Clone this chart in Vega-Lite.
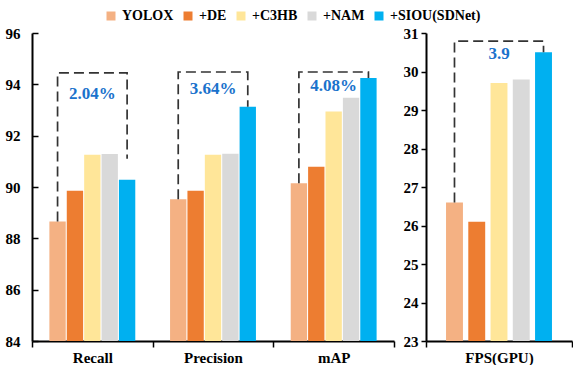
{
  "$schema": "https://vega.github.io/schema/vega-lite/v6.json",
  "padding": {"left": 5, "top": 9, "right": 0, "bottom": 0},
  "spacing": 8,
  "resolve": {"scale": {"xOffset": "independent", "y": "independent", "x": "independent"}},
  "config": {
    "font": "Liberation Serif",
    "view": {"stroke": null},
    "text": {"font": "Liberation Serif"},
    "axis": {"grid": false, "domainColor": "#000", "domainWidth": 2, "tickColor": "#000", "tickWidth": 1.5, "labelFont": "Liberation Serif", "labelFontWeight": "bold", "labelFontSize": 15, "labelColor": "#000", "labelOverlap": false},
    "legend": {"orient": "none", "legendX": 72, "legendY": -24, "direction": "horizontal", "symbolType": "square", "symbolSize": 81, "symbolStrokeWidth": 0, "labelFont": "Liberation Serif", "labelFontWeight": "bold", "labelFontSize": 14, "labelColor": "#000", "columnPadding": 7, "labelOffset": 4}
  },
  "datasets": {
    "bars": [
      {"metric": "Recall", "model": "YOLOX", "value": 88.66},
      {"metric": "Recall", "model": "+DE", "value": 89.85},
      {"metric": "Recall", "model": "+C3HB", "value": 91.26},
      {"metric": "Recall", "model": "+NAM", "value": 91.29},
      {"metric": "Recall", "model": "+SIOU(SDNet)", "value": 90.28},
      {"metric": "Precision", "model": "YOLOX", "value": 89.52},
      {"metric": "Precision", "model": "+DE", "value": 89.85},
      {"metric": "Precision", "model": "+C3HB", "value": 91.26},
      {"metric": "Precision", "model": "+NAM", "value": 91.3},
      {"metric": "Precision", "model": "+SIOU(SDNet)", "value": 93.13},
      {"metric": "mAP", "model": "YOLOX", "value": 90.15},
      {"metric": "mAP", "model": "+DE", "value": 90.79},
      {"metric": "mAP", "model": "+C3HB", "value": 92.94},
      {"metric": "mAP", "model": "+NAM", "value": 93.48},
      {"metric": "mAP", "model": "+SIOU(SDNet)", "value": 94.25}
    ],
    "fps": [
      {"metric": "FPS(GPU)", "model": "YOLOX", "value": 26.6},
      {"metric": "FPS(GPU)", "model": "+DE", "value": 26.1},
      {"metric": "FPS(GPU)", "model": "+C3HB", "value": 29.7},
      {"metric": "FPS(GPU)", "model": "+NAM", "value": 29.79},
      {"metric": "FPS(GPU)", "model": "+SIOU(SDNet)", "value": 30.5}
    ],
    "brackets": [
      {"metric": "Recall", "model": "YOLOX", "value": 88.66, "k": 1},
      {"metric": "Recall", "model": "YOLOX", "value": 94.45, "k": 2},
      {"metric": "Recall", "model": "+SIOU(SDNet)", "value": 94.45, "k": 3},
      {"metric": "Recall", "model": "+SIOU(SDNet)", "value": 91.1, "k": 4},
      {"metric": "Precision", "model": "YOLOX", "value": 89.52, "k": 1},
      {"metric": "Precision", "model": "YOLOX", "value": 94.48, "k": 2},
      {"metric": "Precision", "model": "+SIOU(SDNet)", "value": 94.48, "k": 3},
      {"metric": "Precision", "model": "+SIOU(SDNet)", "value": 93.13, "k": 4},
      {"metric": "mAP", "model": "YOLOX", "value": 90.15, "k": 1},
      {"metric": "mAP", "model": "YOLOX", "value": 94.48, "k": 2},
      {"metric": "mAP", "model": "+SIOU(SDNet)", "value": 94.48, "k": 3},
      {"metric": "mAP", "model": "+SIOU(SDNet)", "value": 94.25, "k": 4}
    ],
    "fpsBracket": [
      {"metric": "FPS(GPU)", "model": "YOLOX", "value": 26.6, "k": 1},
      {"metric": "FPS(GPU)", "model": "YOLOX", "value": 30.79, "k": 2},
      {"metric": "FPS(GPU)", "model": "+SIOU(SDNet)", "value": 30.79, "k": 3},
      {"metric": "FPS(GPU)", "model": "+SIOU(SDNet)", "value": 30.5, "k": 4}
    ],
    "labels": [
      {"metric": "Recall", "value": 93.64, "text": "2.04%"},
      {"metric": "Precision", "value": 93.8, "text": "3.64%"},
      {"metric": "mAP", "value": 93.93, "text": "4.08%"}
    ],
    "fpsLabel": [
      {"metric": "FPS(GPU)", "value": 30.46, "text": "3.9"}
    ]
  },
  "hconcat": [
    {
      "width": 362,
      "height": 308,
      "encoding": {
        "x": {"field": "metric", "type": "nominal", "sort": ["Recall", "Precision", "mAP"], "scale": {"paddingInner": 0, "paddingOuter": 0}, "axis": {"title": null, "labelAngle": 0, "tickBand": "extent", "tickSize": 6, "labelPadding": 3, "labelOverlap": false}},
        "y": {"field": "value", "type": "quantitative", "scale": {"domain": [84, 96], "nice": false, "zero": false}, "axis": {"title": null, "values": [84, 86, 88, 90, 92, 94, 96], "tickSize": -6, "labelPadding": 18, "labelOverlap": false}}
      },
      "layer": [
        {
          "data": {"name": "bars"},
          "mark": {"type": "bar", "clip": true},
          "encoding": {
            "xOffset": {"field": "model", "type": "nominal", "sort": ["YOLOX", "+DE", "+C3HB", "+NAM", "+SIOU(SDNet)"], "scale": {"paddingInner": 0.06, "paddingOuter": 1.16}},
            "y2": {"datum": 84},
            "color": {"field": "model", "type": "nominal", "title": null, "sort": ["YOLOX", "+DE", "+C3HB", "+NAM", "+SIOU(SDNet)"], "scale": {"domain": ["YOLOX", "+DE", "+C3HB", "+NAM", "+SIOU(SDNet)"], "range": ["#F4B183", "#ED7D31", "#FFE699", "#D9D9D9", "#00B0F0"]}}
          }
        },
        {
          "data": {"name": "brackets"},
          "mark": {"type": "line", "color": "#333", "strokeWidth": 1.7, "strokeDash": [10, 5]},
          "encoding": {
            "xOffset": {"field": "model", "type": "nominal", "sort": ["YOLOX", "+DE", "+C3HB", "+NAM", "+SIOU(SDNet)"]},
            "detail": {"field": "metric"},
            "order": {"field": "k", "type": "quantitative"}
          }
        },
        {
          "data": {"name": "labels"},
          "mark": {"type": "text", "color": "#1a72cc", "fontSize": 17, "fontWeight": "bold", "font": "Liberation Serif"},
          "encoding": {
            "text": {"field": "text"}
          }
        }
      ]
    },
    {
      "width": 146,
      "height": 308,
      "encoding": {
        "x": {"field": "metric", "type": "nominal", "scale": {"paddingInner": 0, "paddingOuter": 0}, "axis": {"title": null, "labelAngle": 0, "tickBand": "extent", "tickSize": 6, "labelPadding": 3, "labelOverlap": false}},
        "y": {"field": "value", "type": "quantitative", "scale": {"domain": [23, 31], "nice": false, "zero": false}, "axis": {"title": null, "values": [23, 24, 25, 26, 27, 28, 29, 30, 31], "tickCount": 9, "tickSize": 5, "labelPadding": 3, "labelOverlap": false}}
      },
      "layer": [
        {
          "data": {"name": "fps"},
          "mark": {"type": "bar", "clip": true},
          "encoding": {
            "xOffset": {"field": "model", "type": "nominal", "sort": ["YOLOX", "+DE", "+C3HB", "+NAM", "+SIOU(SDNet)"], "scale": {"paddingInner": 0.24, "paddingOuter": 0.9}},
            "y2": {"datum": 23},
            "color": {"field": "model", "type": "nominal", "title": null, "sort": ["YOLOX", "+DE", "+C3HB", "+NAM", "+SIOU(SDNet)"], "scale": {"domain": ["YOLOX", "+DE", "+C3HB", "+NAM", "+SIOU(SDNet)"], "range": ["#F4B183", "#ED7D31", "#FFE699", "#D9D9D9", "#00B0F0"]}}
          }
        },
        {
          "data": {"name": "fpsBracket"},
          "mark": {"type": "line", "color": "#333", "strokeWidth": 1.7, "strokeDash": [10, 5]},
          "encoding": {
            "xOffset": {"field": "model", "type": "nominal", "sort": ["YOLOX", "+DE", "+C3HB", "+NAM", "+SIOU(SDNet)"]},
            "detail": {"field": "metric"},
            "order": {"field": "k", "type": "quantitative"}
          }
        },
        {
          "data": {"name": "fpsLabel"},
          "mark": {"type": "text", "color": "#1a72cc", "fontSize": 17, "fontWeight": "bold", "font": "Liberation Serif"},
          "encoding": {
            "text": {"field": "text"}
          }
        }
      ]
    }
  ]
}
